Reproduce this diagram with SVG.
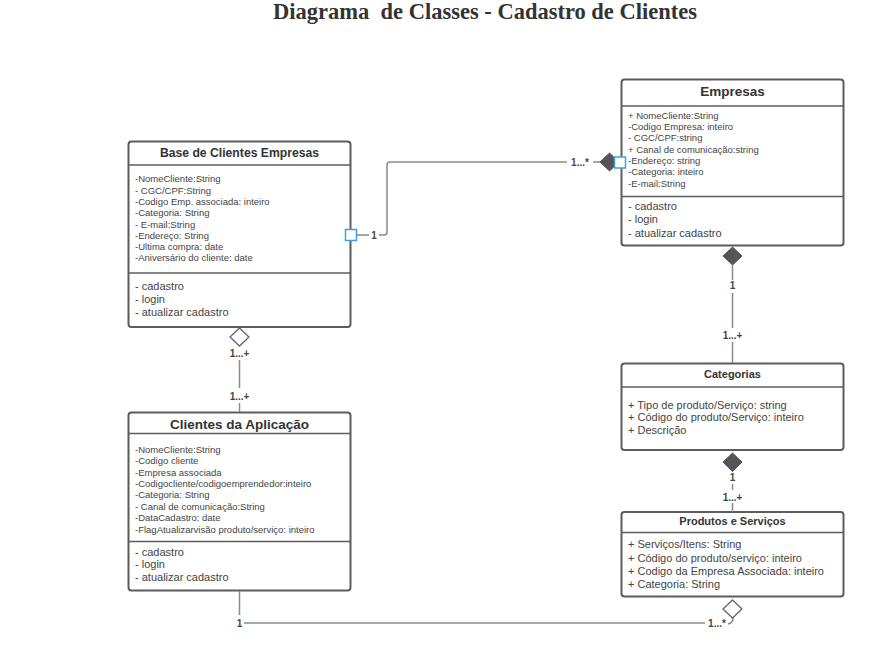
<svg xmlns="http://www.w3.org/2000/svg" width="888" height="657" viewBox="0 0 888 657">
<style>
.box{fill:#fff;stroke:#5c5c5c;stroke-width:2}
.div{stroke:#5c5c5c;stroke-width:1.5}
.hd{font-family:"Liberation Sans",Arial,sans-serif;font-weight:bold;fill:#333;text-anchor:middle}
.at{font-family:"Liberation Sans",Arial,sans-serif;font-size:9.5px;fill:#444}
.me{font-family:"Liberation Sans",Arial,sans-serif;font-size:11px;fill:#444}
.ln{fill:none;stroke:#8a8a8a;stroke-width:1.5}
.lb{font-family:"Liberation Sans",Arial,sans-serif;font-size:10px;font-weight:bold;fill:#444;text-anchor:middle}
.fd{fill:#555;stroke:#555;stroke-width:1}
.hd2{fill:#fff;stroke:#666;stroke-width:1.3}
.sq{fill:#fff;stroke:#3ba3dc;stroke-width:1.5}
</style>
<rect width="888" height="657" fill="#fff"/>
<text x="485" y="19" style="font-family:'Liberation Serif','Times New Roman',serif;font-weight:bold;font-size:22.5px;fill:#333;text-anchor:middle;white-space:pre" xml:space="preserve">Diagrama  de Classes - Cadastro de Clientes</text>

<g id="base-clientes-empresas">
  <rect class="box" x="128.5" y="141.5" width="222" height="185.5" rx="3"/>
  <line class="div" x1="128.5" y1="165" x2="350.5" y2="165"/>
  <line class="div" x1="128.5" y1="273" x2="350.5" y2="273"/>
  <text class="hd" x="239.5" y="156.5" font-size="12.2">Base de Clientes Empresas</text>
  <text class="at" x="135" y="182.3">-NomeCliente:String</text>
  <text class="at" x="135" y="193.6">- CGC/CPF:String</text>
  <text class="at" x="135" y="204.9">-Codigo Emp. associada: inteiro</text>
  <text class="at" x="135" y="216.2">-Categoria: String</text>
  <text class="at" x="135" y="227.5">- E-mail:String</text>
  <text class="at" x="135" y="238.8">-Endereço: String</text>
  <text class="at" x="135" y="250.1">-Ultima compra: date</text>
  <text class="at" x="135" y="261.4">-Aniversário do cliente: date</text>
  <text class="me" x="135" y="289.5">- cadastro</text>
  <text class="me" x="135" y="302.5">- login</text>
  <text class="me" x="135" y="315.5">- atualizar cadastro</text>
</g>

<g id="empresas">
  <rect class="box" x="621.5" y="79.5" width="222" height="166" rx="3"/>
  <line class="div" x1="621.5" y1="106" x2="843.5" y2="106"/>
  <line class="div" x1="621.5" y1="196.5" x2="843.5" y2="196.5"/>
  <text class="hd" x="732.5" y="95.5" font-size="13.5">Empresas</text>
  <text class="at" x="628" y="118.8">+ NomeCliente:String</text>
  <text class="at" x="628" y="130.1">-Codigo Empresa: inteiro</text>
  <text class="at" x="628" y="141.4">- CGC/CPF:string</text>
  <text class="at" x="628" y="152.7">+ Canal de comunicação:string</text>
  <text class="at" x="628" y="164">-Endereço: string</text>
  <text class="at" x="628" y="175.3">-Categoria: inteiro</text>
  <text class="at" x="628" y="186.6">-E-mail:String</text>
  <text class="me" x="628" y="210">- cadastro</text>
  <text class="me" x="628" y="223.3">- login</text>
  <text class="me" x="628" y="236.6">- atualizar cadastro</text>
</g>

<g id="clientes-da-aplicacao">
  <rect class="box" x="128.5" y="412.5" width="222" height="178" rx="3"/>
  <line class="div" x1="128.5" y1="433.5" x2="350.5" y2="433.5"/>
  <line class="div" x1="128.5" y1="541.5" x2="350.5" y2="541.5"/>
  <text class="hd" x="239.5" y="429" font-size="13.5">Clientes da Aplicação</text>
  <text class="at" x="135" y="452.8">-NomeCliente:String</text>
  <text class="at" x="135" y="464.2">-Codigo cliente</text>
  <text class="at" x="135" y="475.6">-Empresa associada</text>
  <text class="at" x="135" y="487">-Codigocliente/codigoemprendedor:inteiro</text>
  <text class="at" x="135" y="498.4">-Categoria: String</text>
  <text class="at" x="135" y="509.8">- Canal de comunicação:String</text>
  <text class="at" x="135" y="521.2">-DataCadastro: date</text>
  <text class="at" x="135" y="532.6">-FlagAtualizarvisão produto/serviço: inteiro</text>
  <text class="me" x="135" y="555.5">- cadastro</text>
  <text class="me" x="135" y="568.3">- login</text>
  <text class="me" x="135" y="581">- atualizar cadastro</text>
</g>

<g id="categorias">
  <rect class="box" x="621.5" y="363.5" width="222" height="86.5" rx="3"/>
  <line class="div" x1="621.5" y1="387" x2="843.5" y2="387"/>
  <text class="hd" x="732.5" y="377.5" font-size="11">Categorias</text>
  <text class="me" x="628" y="408.8">+ Tipo de produto/Serviço: string</text>
  <text class="me" x="628" y="421.4">+ Código do produto/Serviço: inteiro</text>
  <text class="me" x="628" y="434">+ Descrição</text>
</g>

<g id="produtos-e-servicos">
  <rect class="box" x="621.5" y="512" width="222" height="84.5" rx="3"/>
  <line class="div" x1="621.5" y1="532.5" x2="843.5" y2="532.5"/>
  <text class="hd" x="732.5" y="525" font-size="11">Produtos e Serviços</text>
  <text class="me" x="628" y="548">+ Serviços/Itens: String</text>
  <text class="me" x="628" y="561.5">+ Código do produto/serviço: inteiro</text>
  <text class="me" x="628" y="575">+ Codigo da Empresa Associada: inteiro</text>
  <text class="me" x="628" y="588">+ Categoria: String</text>
</g>

<g id="connectors">
  <!-- Base -> Empresas -->
  <path class="ln" d="M356 235 H369"/>
  <text class="lb" x="374" y="238.5">1</text>
  <path class="ln" d="M379 235 H384 Q387 235 387 232 V165 Q387 162 390 162 H567"/>
  <text class="lb" x="580" y="165.5">1...*</text>
  <path class="ln" d="M593 162 H600"/>
  <polygon class="fd" points="600,162 609.5,153 619,162 609.5,171"/>
  <rect class="sq" x="614.5" y="157" width="11" height="11"/>
  <rect class="sq" x="345.5" y="229.5" width="11" height="11"/>
  <!-- Empresas -> Categorias -->
  <polygon class="fd" points="732.5,247 742,256 732.5,265 723,256"/>
  <path class="ln" d="M732.5 265 V280"/>
  <text class="lb" x="732.5" y="288.5">1</text>
  <path class="ln" d="M732.5 293 V328"/>
  <text class="lb" x="732.5" y="338.5">1...+</text>
  <path class="ln" d="M732.5 342 V363"/>
  <!-- Categorias -> Produtos -->
  <polygon class="fd" points="732.5,453 742,462 732.5,471.5 723,462"/>
  <text class="lb" x="732.5" y="480.5">1</text>
  <path class="ln" d="M732.5 484 V490"/>
  <text class="lb" x="732.5" y="500.5">1...+</text>
  <path class="ln" d="M732.5 503 V512"/>
  <!-- Base -> Clientes -->
  <polygon class="hd2" points="239.5,328 249,337 239.5,346 230,337"/>
  <text class="lb" x="239.5" y="356.5">1...+</text>
  <path class="ln" d="M239.5 360 V388"/>
  <text class="lb" x="239.5" y="400">1...+</text>
  <path class="ln" d="M239.5 403 V412"/>
  <!-- Clientes -> Produtos -->
  <path class="ln" d="M239.5 591 V615"/>
  <text class="lb" x="239.5" y="626.5">1</text>
  <path class="ln" d="M244 623 H705"/>
  <text class="lb" x="717" y="626.5">1...*</text>
  <path class="ln" d="M728 624 Q733 623 733 618"/>
  <polygon class="hd2" points="732.5,600 742,609 732.5,618 723,609"/>
</g>
</svg>
